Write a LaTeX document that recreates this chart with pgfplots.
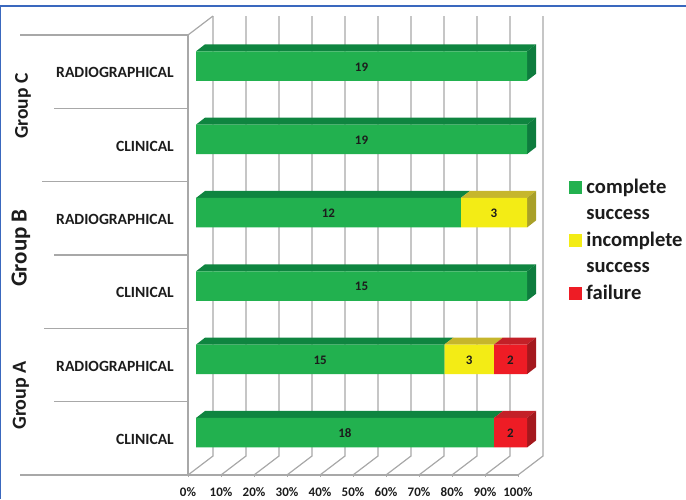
\documentclass[border=0pt]{standalone}
\usepackage{fontspec}
\setmainfont{Carlito}
\usepackage{pgfplots}
\usepackage{pgfplotstable}
\pgfplotsset{compat=1.18}

\definecolor{gridgray}{HTML}{A8A8A8}
\definecolor{framblue}{HTML}{3A68BE}
\definecolor{inkc}{HTML}{1C1C1C}
\definecolor{okfront}{HTML}{22B14F}
\definecolor{oktop}{HTML}{0F8540}
\definecolor{okside}{HTML}{0E7C3E}
\definecolor{partfront}{HTML}{F3EC15}
\definecolor{parttop}{HTML}{C6B62C}
\definecolor{partside}{HTML}{A9A028}
\definecolor{failfront}{HTML}{EE1C25}
\definecolor{failtop}{HTML}{C32027}
\definecolor{failside}{HTML}{A4181D}

% share of each outcome per row, in percent; pos 0 is the lowest bar
\pgfplotstableread{
pos complete incomplete failure
0   90       0          10
1   75       15         10
2   100      0          0
3   80       20         0
4   100      0          0
5   100      0          0
}\shares

% patient counts printed on the segments, at the middle of each segment
\pgfplotstableread{
pos mid  n
0   45   18
0   95   2
1   37.5 15
1   82.5 3
1   95   2
2   50   15
3   40   12
3   90   3
4   50   19
5   50   19
}\counts

% shared placement of the hidden bar layers
\pgfplotsset{barlayer/.style={
  scale only axis, width=331pt, height=440pt,
  at={(196pt,29.6pt)}, anchor=south west,
  xmin=0, xmax=100, ymin=-0.5, ymax=5.5,
  hide axis, clip=false}}

% top face of one segment of a bar
\newcommand{\topface}[4]{%
  \pgfmathsetmacro{\ya}{#1+0.2011}%
  \pgfmathsetmacro{\yb}{#1+0.2966}%
  \pgfmathsetmacro{\xa}{#2+2.72}%
  \pgfmathsetmacro{\xb}{#3+2.72}%
  \addplot[fill=#4, draw=none, forget plot] coordinates {(#2,\ya) (#3,\ya) (\xb,\yb) (\xa,\yb)} -- cycle;%
}
% right end face of a bar
\newcommand{\sideface}[2]{%
  \pgfmathsetmacro{\ya}{#1+0.2011}%
  \pgfmathsetmacro{\yb}{#1+0.2966}%
  \pgfmathsetmacro{\yc}{#1-0.2011}%
  \pgfmathsetmacro{\yd}{#1-0.1056}%
  \addplot[fill=#2, draw=none, forget plot] coordinates {(100,\ya) (100,\yc) (102.72,\yd) (102.72,\yb)} -- cycle;%
}

\begin{document}
\begin{tikzpicture}[x=1pt,y=1pt]
\path[use as bounding box] (0,0) rectangle (686,499);

% outer frame, top and left edges only
\draw[framblue, line width=1.4pt] (0.8,0) -- (0.8,493) -- (686,493);

% floor, walls and category scale
\begin{axis}[
  scale only axis, width=330pt, height=440pt,
  at={(188pt,24pt)}, anchor=south west,
  xmin=0, xmax=100, ymin=-0.5, ymax=5.5,
  clip=false,
  axis x line*=bottom, axis y line*=left,
  axis line style={gridgray, line width=1.2pt, -},
  xtick={0,10,...,100},
  xticklabels={0\%,10\%,20\%,30\%,40\%,50\%,60\%,70\%,80\%,90\%,100\%},
  xtick style={gridgray, line width=0.9pt},
  tick align=outside,
  major tick length=2pt,
  xticklabel style={font=\fontsize{13}{15}\selectfont\bfseries, text=inkc, inner sep=0pt, yshift=-10pt},
  ytick={0,1,2,3,4,5},
  yticklabels={CLINICAL,RADIOGRAPHICAL,CLINICAL,RADIOGRAPHICAL,CLINICAL,RADIOGRAPHICAL},
  ytick style={draw=none},
  yticklabel style={font=\fontsize{15.6}{18}\selectfont\bfseries, text=inkc, inner sep=0pt, xshift=-12pt, yshift=-1pt},
  /pgf/number format/assume math mode=true,
]
  % back wall grid and floor lines
  \pgfplotsinvokeforeach{0,10,...,100}{
    \draw[gridgray, line width=1.2pt] (axis cs:#1,-0.5) -- (axis cs:#1+7.576,-0.241) -- (axis cs:#1+7.576,5.759);
  }
  \draw[gridgray, line width=1.2pt] (axis cs:0,5.5) -- (axis cs:7.576,5.759);
  % separators reaching left into the label area
  \draw[gridgray, line width=1.2pt] (axis cs:0,5.5) -- ++(-168pt,0pt);
  \draw[gridgray, line width=1.2pt] (axis cs:0,4.5) -- ++(-134pt,0pt);
  \draw[gridgray, line width=1.2pt] (axis cs:0,3.5) -- ++(-146pt,0pt);
  \draw[gridgray, line width=1.2pt] (axis cs:0,2.5) -- ++(-134pt,0pt);
  \draw[gridgray, line width=1.2pt] (axis cs:0,1.5) -- ++(-144pt,0pt);
  \draw[gridgray, line width=1.2pt] (axis cs:0,0.5) -- ++(-134pt,0pt);
  \draw[gridgray, line width=1.2pt] (axis cs:0,-0.5) -- ++(-168pt,0pt);
\end{axis}

% depth faces of the bars
\begin{axis}[barlayer]
  \topface{0}{0}{90}{oktop}     \topface{0}{90}{100}{failtop}   \sideface{0}{failside}
  \topface{1}{0}{75}{oktop}     \topface{1}{75}{90}{parttop}
  \topface{1}{90}{100}{failtop} \sideface{1}{failside}
  \topface{2}{0}{100}{oktop}    \sideface{2}{okside}
  \topface{3}{0}{80}{oktop}     \topface{3}{80}{100}{parttop}   \sideface{3}{partside}
  \topface{4}{0}{100}{oktop}    \sideface{4}{okside}
  \topface{5}{0}{100}{oktop}    \sideface{5}{okside}
\end{axis}

% front faces, stacked to 100 % of each row
\begin{axis}[barlayer,
  xbar stacked, bar width=29.5pt,
  legend style={at={(axis description cs:1.127,0.6645)}, anchor=north west,
    draw=none, fill=none, inner sep=0pt, outer sep=0pt,
    font=\fontsize{20.6}{22}\selectfont\bfseries, text=inkc,
    nodes={text height=14pt, text depth=4pt},
    row sep=4.5pt},
  legend cell align=left,
  legend image code/.code={\fill[#1] (0pt,-5pt) rectangle (12pt,7pt); \path (15pt,0pt);},
]
  \addplot[fill=okfront, draw=none, forget plot] table[x=complete, y=pos] {\shares};
  \addplot[fill=partfront, draw=none, forget plot] table[x=incomplete, y=pos] {\shares};
  \addplot[fill=failfront, draw=none, forget plot] table[x=failure, y=pos] {\shares};
  \addlegendimage{okfront}\addlegendentry{complete}
  \addlegendimage{white}\addlegendentry{success}
  \addlegendimage{partfront}\addlegendentry{incomplete}
  \addlegendimage{white}\addlegendentry{success}
  \addlegendimage{failfront}\addlegendentry{failure}
\end{axis}

% counts on the segments
\begin{axis}[barlayer]
  \addplot[only marks, mark=none, point meta=explicit,
    nodes near coords={\pgfmathprintnumber{\pgfplotspointmeta}},
    nodes near coords style={font=\fontsize{13}{15}\selectfont\bfseries, text=inkc,
      anchor=center, inner sep=0pt, yshift=-0.7pt, /pgf/number format/assume math mode=true}]
    table[x=mid, y=pos, meta=n] {\counts};
\end{axis}

% group captions beside the rows
\node[rotate=90, font=\fontsize{19.5}{22}\selectfont\bfseries, text=inkc] at (23,393) {Group C};
\node[rotate=90, font=\fontsize{23}{25}\selectfont\bfseries, text=inkc] at (21,251) {Group B};
\node[rotate=90, font=\fontsize{20}{22}\selectfont\bfseries, text=inkc] at (21,103.5) {Group A};
\end{tikzpicture}
\end{document}
